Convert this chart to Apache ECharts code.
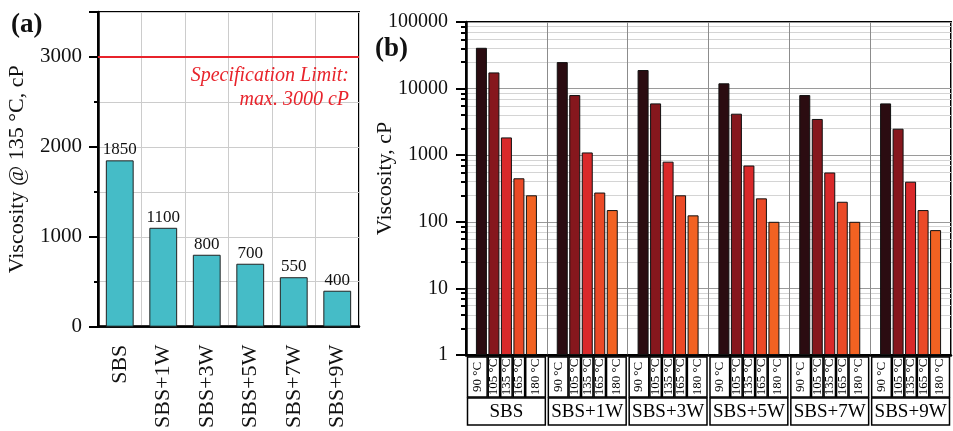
<!DOCTYPE html>
<html>
<head>
<meta charset="utf-8">
<script src="https://cdn.jsdelivr.net/npm/echarts@6/dist/echarts.min.js"></script>
<style>
  html, body { margin: 0; padding: 0; background: #fff; }
  #main { width: 953px; height: 431px; }
</style>
</head>
<body>
<div id="main"></div>
<script>
// panel (a): viscosity at 135 °C
var groups = ['SBS', 'SBS+1W', 'SBS+3W', 'SBS+5W', 'SBS+7W', 'SBS+9W'];
var visc135 = [1850, 1100, 800, 700, 550, 400];
var specLimit = 3000;
// panel (b): viscosity vs temperature
var temps = ['90 °C', '105 °C', '135 °C', '165 °C', '180 °C'];
var v90 = [41000, 25000, 19000, 12000, 8000, 6000];
var v105 = [17500, 8000, 6000, 4200, 3500, 2500];
var v135 = [1850, 1100, 800, 700, 550, 400];
var v165 = [450, 275, 250, 225, 200, 150];
var v180 = [250, 150, 125, 100, 100, 75];
var tempColors = ['#2b0c11', '#86171d', '#d9292a', '#eb4a27', '#f26222'];

var FONT = '"Liberation Serif", "DejaVu Serif", serif';
var BAR_W = 11;
var BAR_GAP = 1.5;

var myChart = echarts.init(document.getElementById('main'));

// 表格（温度 + 组名）画在 (b) 的横轴下面
function renderTable(params, api) {
    var idx = api.value(0);
    var p = api.coord([idx, 1]);
    var band = api.coord([1, 1])[0] - api.coord([0, 1])[0];
    var x0 = p[0] - band / 2, x1 = p[0] + band / 2, y0 = p[1];
    var total = temps.length * BAR_W + (temps.length - 1) * BAR_GAP;
    var start = p[0] - total / 2;
    var children = [];
    for (var i = 0; i < temps.length; i++) {
        var bl = start + i * (BAR_W + BAR_GAP);
        var l = i === 0 ? x0 + 1.5 : bl - 0.2;
        var r = i === temps.length - 1 ? x1 - 1.5 : bl + BAR_W + 0.2;
        children.push({
            type: 'rect',
            shape: {x: l, y: y0 + 2, width: r - l, height: 40},
            style: {fill: '#fff', stroke: '#000', lineWidth: 1.5}
        });
        children.push({
            type: 'text',
            x: (l + r) / 2, y: y0 + 22,
            rotation: Math.PI / 2,
            style: {text: temps[i], font: '13px ' + FONT, align: 'center', verticalAlign: 'middle', fill: '#000'}
        });
    }
    children.push({
        type: 'rect',
        shape: {x: x0 + 1.5, y: y0 + 43, width: band - 3, height: 27},
        style: {fill: '#fff', stroke: '#000', lineWidth: 1.5}
    });
    children.push({
        type: 'text',
        x: p[0], y: y0 + 57,
        style: {text: groups[idx], font: '19px ' + FONT, align: 'center', verticalAlign: 'middle', fill: '#000'}
    });
    return {type: 'group', children: children};
}

var tempData = [v90, v105, v135, v165, v180];
var seriesB = [];
for (var i = 0; i < temps.length; i++) {
    seriesB.push({
        name: temps[i],
        type: 'bar',
        xAxisIndex: 1,
        yAxisIndex: 1,
        data: tempData[i],
        barWidth: BAR_W,
        barGap: (BAR_GAP / BAR_W * 100) + '%',
        itemStyle: {color: tempColors[i], borderColor: '#111', borderWidth: 1},
        z: 3
    });
}
seriesB.push({
    type: 'custom',
    xAxisIndex: 1,
    yAxisIndex: 1,
    clip: false,
    silent: true,
    renderItem: renderTable,
    data: groups.map(function (g, k) { return [k, 1]; }),
    z: 5
});

var option = {
    backgroundColor: '#fff',
    animation: false,
    textStyle: {fontFamily: FONT},
    title: [
        {text: '(a)', left: 6, top: 7, textStyle: {fontFamily: FONT, fontSize: 27, fontWeight: 'bold', color: '#111'}},
        {text: '(b)', left: 370, top: 31, textStyle: {fontFamily: FONT, fontSize: 27, fontWeight: 'bold', color: '#111'}}
    ],
    grid: [
        {left: 98, top: 12, width: 261, bottom: 103, show: true, borderColor: '#000', borderWidth: 2, containLabel: false},
        {left: 466, top: 22, width: 485, bottom: 76, show: true, borderColor: '#000', borderWidth: 2, containLabel: false}
    ],
    xAxis: [
        {
            type: 'category', gridIndex: 0, data: groups,
            axisLine: {lineStyle: {color: '#000', width: 2.5}},
            axisTick: {alignWithLabel: true, length: 7, lineStyle: {color: '#000', width: 2}},
            axisLabel: {rotate: 90, fontSize: 22, color: '#111', fontFamily: FONT, margin: 18},
            splitLine: {show: true, lineStyle: {color: '#ccc', width: 1}}
        },
        {
            type: 'category', gridIndex: 1, data: groups,
            axisLine: {lineStyle: {color: '#000', width: 2.5}},
            axisTick: {show: false},
            axisLabel: {show: false},
            splitLine: {show: true, lineStyle: {color: '#8c8c8c', width: 1}}
        }
    ],
    yAxis: [
        {
            type: 'value', gridIndex: 0, min: 0, max: 3500, interval: 1000,
            name: 'Viscosity @ 135 °C, cP', nameLocation: 'middle', nameGap: 70,
            nameMoveOverlap: false,
            nameTextStyle: {fontSize: 22, fontFamily: FONT, color: '#111'},
            axisLine: {show: true, lineStyle: {color: '#000', width: 2.5}},
            axisTick: {show: true, length: 9, lineStyle: {color: '#000', width: 2}},
            minorTick: {show: true, splitNumber: 2, length: 4, lineStyle: {color: '#000', width: 2}},
            axisLabel: {
                fontSize: 21, color: '#111', fontFamily: FONT, margin: 16,
                formatter: function (v) { return v % 1000 === 0 ? String(v) : ''; }
            },
            splitLine: {show: true, lineStyle: {color: '#ccc', width: 1}},
            minorSplitLine: {show: true, lineStyle: {color: '#ccc', width: 1}}
        },
        {
            type: 'log', gridIndex: 1, logBase: 10, min: 1, max: 100000,
            name: 'Viscosity, cP', nameLocation: 'middle', nameGap: 70,
            nameMoveOverlap: false,
            nameTextStyle: {fontSize: 22, fontFamily: FONT, color: '#111', padding: [0, 0, 0, 20]},
            axisLine: {show: true, lineStyle: {color: '#000', width: 2.5}},
            axisTick: {show: true, length: 10, lineStyle: {color: '#000', width: 2}},
            minorTick: {show: true, splitNumber: 6, length: 5, lineStyle: {color: '#000', width: 2}},
            axisLabel: {
                fontSize: 20, color: '#111', fontFamily: FONT, margin: 18,
                formatter: function (v) { return String(Math.round(v)); }
            },
            splitLine: {show: true, lineStyle: {color: '#9a9a9a', width: 1}},
            minorSplitLine: {show: true, lineStyle: {color: '#d4d4d4', width: 1}}
        }
    ],
    series: [
        {
            type: 'bar',
            xAxisIndex: 0,
            yAxisIndex: 0,
            data: visc135,
            barWidth: '64%',
            itemStyle: {color: '#45bcc7', borderColor: '#222', borderWidth: 1},
            label: {show: true, position: 'top', distance: 2, fontSize: 17, color: '#111', fontFamily: FONT},
            markLine: {
                silent: true,
                symbol: 'none',
                lineStyle: {color: '#e8232b', width: 2, type: 'solid'},
                label: {
                    show: true,
                    position: 'insideEndBottom',
                    distance: [10, 7],
                    formatter: 'Specification Limit:\nmax. 3000 cP',
                    fontSize: 20, fontStyle: 'italic', fontFamily: FONT, color: '#e8232b',
                    lineHeight: 24, align: 'right'
                },
                data: [{yAxis: specLimit}]
            },
            z: 3
        }
    ].concat(seriesB)
};

myChart.setOption(option);
</script>
</body>
</html>
